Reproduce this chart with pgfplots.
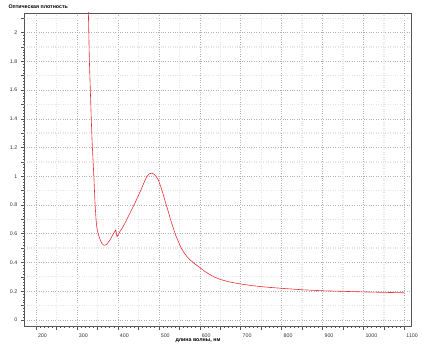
\documentclass[border=0pt]{standalone}
\usepackage{fontspec}
\setmainfont{Liberation Sans}
\usepackage{pgfplots}
\pgfplotsset{compat=1.18}
\definecolor{curvecol}{RGB}{240,45,55}
\definecolor{framecol}{RGB}{85,85,85}
\begin{document}
\begin{tikzpicture}
\useasboundingbox (-24.3bp,-31.3bp) rectangle (415.7bp,326.7bp);
\begin{axis}[
  scale only axis,
  width=386.7bp, height=313.7bp,
  xmin=171.4, xmax=1116,
  ymin=-0.047, ymax=2.136,
  axis line style={framecol, line width=0.8bp},
  xtick={200,300,...,1100},
  ytick={0,0.2,0.4,0.6,0.8,1,1.2,1.4,1.6,1.8,2},
  minor x tick num=9,
  minor y tick num=9,
  xtick pos=bottom, ytick pos=left,
  tick align=outside,
  major tick length=3bp, minor tick length=1.5bp,
  every tick/.style={framecol, line width=0.5bp},
  grid=major,
  major grid style={gray!60, dotted, line width=0.5bp},
  extra x ticks={250,350,450,550,650,750,850,950,1050},
  extra x tick labels={},
  extra x tick style={major grid style={gray!20, line width=1.3bp}},
  extra y ticks={0.1,0.3,0.5,0.7,0.9,1.1,1.3,1.5,1.7,1.9,2.1},
  extra y tick labels={},
  extra y tick style={major grid style={gray!20, line width=1.3bp}},
  /pgf/number format/assume math mode=true,
  /pgf/number format/1000 sep={},
  tick label style={font=\fontsize{5.3}{6}\selectfont, text=black!80},
  xticklabel style={anchor=north west, xshift=-1.5bp, yshift=-1bp},
  yticklabel style={anchor=east, xshift=-0.5bp},
  xlabel={длина волны, нм},
  ylabel={Оптическая плотность},
  every axis x label/.style={at={(rel axis cs:0,0)}, anchor=west, xshift=147.7bp, yshift=-14.3bp, font=\bfseries\fontsize{5.3}{6}\selectfont},
  every axis y label/.style={at={(rel axis cs:0,1)}, anchor=west, xshift=-19.3bp, yshift=6.3bp, font=\bfseries\fontsize{5.3}{6}\selectfont},
]
\addplot[curvecol, line width=0.6bp] coordinates {
(327.5,2.20) (330.3,1.81) (335.1,1.39) (336.9,1.25) (341.7,0.974) (344,0.82)
(346.6,0.70) (348.5,0.645) (351,0.608) (354,0.58) (357,0.557) (360,0.536)
(364.5,0.522) (368,0.520) (372.8,0.527)
(380.8,0.557) (388,0.595) (394.8,0.626) (397.9,0.579) (405,0.615) (413.3,0.652)
(429.7,0.745) (442,0.815) (454,0.89) (463,0.95) (470.5,0.997) (477,1.017)
(482.7,1.022) (488,1.015) (493,1.000) (498.9,0.974) (505,0.925) (511.1,0.87)
(517,0.81) (523.3,0.753) (529,0.695) (535.5,0.638) (541,0.59) (547.8,0.545)
(554,0.505) (560,0.475) (568,0.443) (576,0.418) (588,0.39) (600,0.365)
(612,0.338) (625,0.315) (637,0.297) (650,0.282) (670,0.266) (700,0.250)
(730,0.238) (760,0.229) (800,0.220) (850,0.210) (900,0.203) (950,0.199)
(1000,0.195) (1050,0.192) (1100,0.189)
};
\draw[framecol, line width=0.8bp] (rel axis cs:0,0) rectangle (rel axis cs:1,1);
\end{axis}
\end{tikzpicture}
\end{document}
